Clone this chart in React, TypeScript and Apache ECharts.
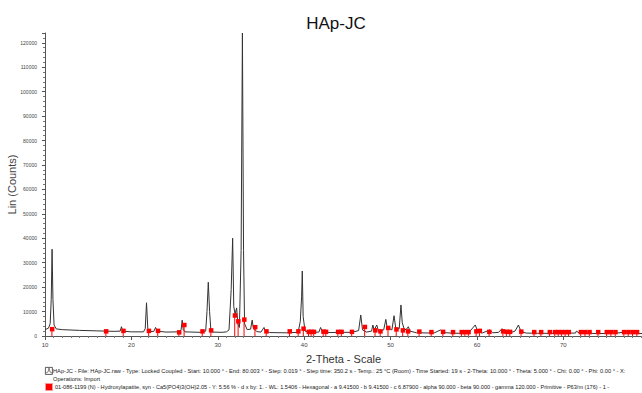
import React, { useEffect, useRef } from "react";
import * as echarts from "echarts";

// Measured pattern: [2-theta, counts]
const patternPoints: [number, number][] = [
  [10.0, 2600], [10.4, 3200], [10.6, 5000], [10.72, 15000], [10.82, 35500], [10.92, 15000], [11.05, 4500], [11.3, 2900],
  [12.0, 2600], [14.0, 2300], [16.0, 2100], [18.0, 1900],
  [18.7, 2000], [18.85, 3800], [19.0, 2000],
  [20.0, 1700], [21.4, 1700], [21.6, 3000], [21.75, 13600], [21.9, 3000], [22.1, 1800],
  [22.6, 1900], [22.8, 3500], [23.0, 2000], [24.0, 1600], [25.5, 1700], [25.75, 2500], [25.88, 6500], [26.0, 2600], [26.2, 1700],
  [28.0, 1500], [28.6, 2000], [28.75, 10000], [28.9, 22000], [29.05, 10000], [29.2, 2200], [29.4, 1600], [30.5, 1500],
  [31.0, 1700], [31.3, 2500], [31.55, 19000], [31.72, 40000], [31.85, 12000], [32.0, 9000], [32.18, 11500], [32.32, 5000],
  [32.5, 3500], [32.7, 35000], [32.85, 124000], [32.98, 35000], [33.1, 5000], [33.4, 2600], [33.8, 2800], [33.98, 6500],
  [34.1, 3500], [34.5, 1800], [35.0, 1600], [35.35, 3500], [35.5, 2000], [36.0, 1400], [38.0, 1300],
  [39.3, 1500], [39.55, 6000], [39.7, 16000], [39.78, 26600], [39.88, 8000], [40.1, 2000], [40.6, 1500], [41.7, 1600],
  [41.9, 3500], [42.1, 1800], [43.0, 1400], [44.0, 1500],
  [45.5, 1500], [46.3, 2200], [46.55, 8600], [46.75, 2500], [47.2, 1600], [47.8, 2000], [47.95, 4500], [48.1, 2400],
  [48.4, 4500], [48.6, 2000], [49.2, 2500], [49.45, 6800], [49.6, 3500], [50.15, 2500], [50.4, 8300], [50.6, 3200],
  [51.0, 3000], [51.2, 12700], [51.35, 5500], [51.6, 2500], [51.85, 2800], [52.05, 3800], [52.25, 2000], [53.0, 1300],
  [53.2, 2000], [53.4, 1300], [55.0, 1200], [55.8, 2500], [56.1, 1400], [57.0, 1200], [58.0, 1100], [59.0, 1200],
  [59.8, 4500], [60.1, 1800], [60.6, 1200], [61.5, 2500], [61.8, 1300], [62.5, 1500], [62.9, 3000], [63.2, 1600],
  [64.0, 1500], [64.4, 2000], [64.8, 4500], [65.1, 1800], [65.7, 1200], [67.0, 1100], [69.0, 1100], [71.4, 1200],
  [71.5, 2000], [71.8, 1300], [72.0, 2000], [72.3, 1200], [74.0, 1000], [76.0, 1100], [77.9, 2000], [78.2, 1000], [79.1, 1000],
];

// Reference pattern 01-086-1199 stick positions and heights
const stickPos: number[] = [
  10.8, 17.05, 19.05, 22.0, 23.05, 25.5, 26.1, 28.2, 29.2, 31.96, 32.35, 33.04, 34.3, 35.6, 38.3, 39.3, 39.9,
  40.5, 40.8, 41.1, 42.2, 42.5, 43.9, 44.3, 45.5, 47.0, 48.2, 48.8, 49.7, 50.65, 51.4, 52.0, 53.3, 54.7, 56.05,
  57.2, 58.2, 58.6, 59.0, 59.9, 60.3, 61.4, 63.0, 63.4, 63.8, 65.1, 66.6, 67.4, 68.4, 69.0, 69.4, 69.8, 70.2,
  70.6, 72.0, 72.5, 73.0, 74.0, 75.0, 75.5, 76.0, 77.0, 77.5, 78.0, 78.5,
];
const stickHeight: number[] = [
  2900, 2000, 2200, 2200, 2200, 1600, 4600, 2000, 2400, 8500, 6100, 6800, 3700, 2000, 2000, 2000, 3100,
  1800, 1800, 1800, 1900, 1800, 1800, 1800, 1800, 3800, 2400, 2000, 3400, 2800, 2400, 2000, 1900, 1700, 1800,
  1700, 1700, 1700, 1700, 2000, 2200, 1800, 2000, 1800, 1800, 1900, 1700, 1700, 1700, 1700, 1700, 1700, 1700,
  1700, 1700, 1700, 1700, 1700, 1700, 1700, 1700, 1700, 1700, 1700, 1700,
];

const titleText = "HAp-JC";
const yName = "Lin (Counts)";
const xName = "2-Theta - Scale";
const legend1a =
  "HAp-JC - File: HAp-JC.raw - Type: Locked Coupled - Start: 10.000 ° - End: 80.003 ° - Step: 0.019 ° - Step time: 350.2 s - Temp.: 25 °C (Room) - Time Started: 19 s - 2-Theta: 10.000 ° - Theta: 5.000 ° - Chi: 0.00 ° - Phi: 0.00 ° - X:";
const legend1b = "Operations: Import";
const legend2 =
  "01-086-1199 (N) - Hydroxylapatite, syn - Ca5(PO4)3(OH)2.05 - Y: 5.56 % - d x by: 1. - WL: 1.5406 - Hexagonal - a 9.41500 - b 9.41500 - c 6.87900 - alpha 90.000 - beta 90.000 - gamma 120.000 - Primitive - P63/m (176) - 1 -";

export default function App() {
  const ref = useRef<HTMLDivElement>(null);
  useEffect(() => {
    document.body.style.margin = "0";
    if (!ref.current) return;
    const chart = echarts.init(ref.current, null, { renderer: "svg" });
    const font = "Liberation Sans, Arial, sans-serif";
    const sticks = stickPos.map((p, i) => [p, stickHeight[i]]);
    chart.setOption({
      animation: false,
      backgroundColor: "#fff",
      title: {
        text: titleText,
        left: 331,
        top: 10,
        textAlign: "center",
        textStyle: { fontFamily: font, fontSize: 17, fontWeight: "normal", color: "#111" },
      },
      grid: { left: 45, right: 0, top: 33, bottom: 57, containLabel: false, outerBoundsMode: "none" },
      xAxis: {
        type: "value",
        min: 10,
        max: 79.1,
        interval: 10,
        name: xName,
        nameLocation: "middle",
        nameGap: 17,
        nameMoveOverlap: false,
        nameTextStyle: { fontFamily: font, fontSize: 11, color: "#333", verticalAlign: "top" },
        axisLine: { lineStyle: { color: "#555", width: 1 } },
        axisTick: { length: 4, lineStyle: { color: "#555" } },
        minorTick: { show: true, splitNumber: 10, length: 2, lineStyle: { color: "#777" } },
        axisLabel: { fontFamily: font, fontSize: 6, color: "#444", margin: 6, showMaxLabel: false },
        splitLine: { show: false },
      },
      yAxis: {
        type: "value",
        min: 0,
        max: 124000,
        interval: 10000,
        name: yName,
        nameLocation: "middle",
        nameGap: 28,
        nameMoveOverlap: false,
        nameTextStyle: { fontFamily: font, fontSize: 11, color: "#444" },
        axisLine: { show: true, lineStyle: { color: "#555", width: 1 } },
        axisTick: { show: true, length: 3, lineStyle: { color: "#555" } },
        minorTick: { show: true, splitNumber: 5, length: 2, lineStyle: { color: "#777" } },
        axisLabel: {
          fontFamily: font,
          fontSize: 5,
          color: "#444",
          margin: 8,
          showMaxLabel: false,
          formatter: (v: number) => String(v),
        },
        splitLine: { show: false },
      },
      series: [
        {
          type: "custom",
          z: 3,
          data: sticks,
          renderItem: (params: any, api: any) => {
            const x = api.value(0);
            const y = api.value(1);
            const top = api.coord([x, y]);
            const base = api.coord([x, 0]);
            return {
              type: "group",
              children: [
                {
                  type: "line",
                  shape: { x1: top[0], y1: top[1], x2: base[0], y2: base[1] },
                  style: { stroke: "#ff0000", lineWidth: 1 },
                },
                {
                  type: "rect",
                  shape: { x: top[0] - 2, y: top[1] - 2, width: 4.5, height: 4.5 },
                  style: { fill: "#ff0000" },
                },
              ],
            };
          },
        },
        {
          type: "line",
          z: 2,
          data: patternPoints,
          showSymbol: false,
          symbol: "none",
          lineStyle: { color: "#333", width: 1 },
        },
      ],
      graphic: [
        {
          type: "rect",
          left: 45,
          top: 367,
          shape: { width: 7, height: 7 },
          style: { fill: "#fff", stroke: "#333", lineWidth: 0.8 },
        },
        {
          type: "polyline",
          shape: { points: [[46, 373], [48, 372], [49, 368], [50, 372], [52, 373]] },
          style: { stroke: "#333", fill: "none", lineWidth: 0.6 },
        },
        {
          type: "text",
          left: 53,
          top: 368,
          style: { text: legend1a, fontFamily: font, fontSize: 5.7, fill: "#222" },
        },
        {
          type: "text",
          left: 53,
          top: 376,
          style: { text: legend1b, fontFamily: font, fontSize: 5.7, fill: "#222" },
        },
        {
          type: "rect",
          left: 45,
          top: 383,
          shape: { width: 7, height: 7 },
          style: { fill: "#ff0000", stroke: "#ff9999", lineWidth: 1 },
        },
        {
          type: "text",
          left: 55,
          top: 384,
          style: { text: legend2, fontFamily: font, fontSize: 5.6, fill: "#222" },
        },
      ],
    });
    return () => chart.dispose();
  }, []);
  return <div ref={ref} style={{ width: 642, height: 393 }} />;
}
